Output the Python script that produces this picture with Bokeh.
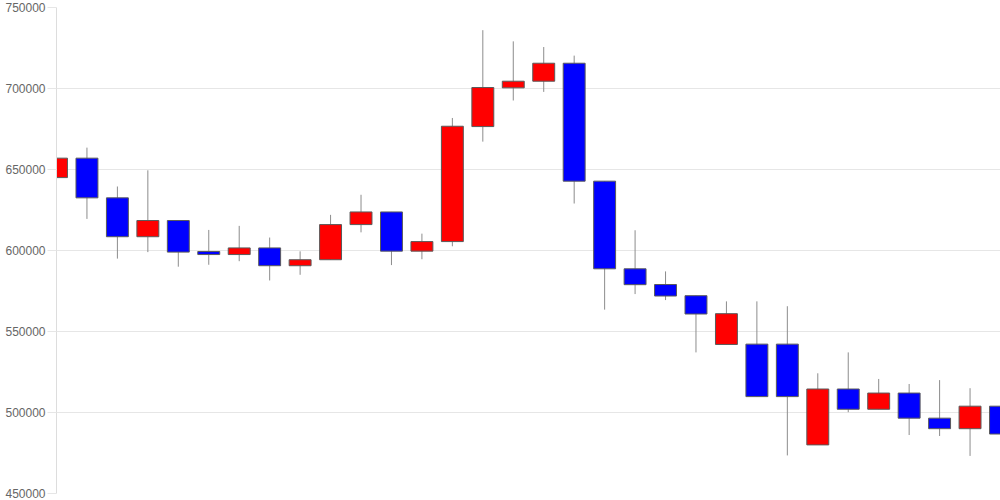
from bokeh.plotting import figure
from bokeh.models import Range1d, FixedTicker, BasicTickFormatter, ColumnDataSource
from bokeh.embed import file_html
from bokeh.resources import INLINE

# Candle data (index, open, high, low, close)
idx = list(range(32))
opens = [645000, 657000, 632500, 608500, 618500, 599400, 597500, 601600, 590600, 594300,
         616000, 623800, 599600, 605500, 676500, 700400, 704500, 715600, 642800, 588700,
         579000, 572100, 542000, 542200, 542200, 480000, 514500, 502000, 512000, 496500,
         490000, 503900]
closes = [657000, 632500, 608500, 618500, 599000, 597500, 601600, 590600, 594300, 616000,
          623800, 599600, 605500, 676700, 700600, 704500, 715600, 642800, 588700, 578900,
          571900, 560800, 561000, 509800, 509800, 514500, 502000, 512000, 496500, 490000,
          503900, 486700]
highs = [670000, 663500, 639500, 649500, 618500, 612700, 615200, 608000, 599500, 622000,
         634400, 623800, 610400, 681800, 736000, 729100, 725600, 720300, 642800, 612500,
         587100, 572100, 568600, 568600, 565600, 524200, 537100, 520700, 517600, 520000,
         515000, 508200]
lows = [626000, 619500, 595000, 599000, 590000, 591200, 593400, 581500, 585000, 594300,
        611200, 591000, 594600, 602600, 667200, 692600, 697900, 629000, 563500, 573100,
        569400, 537100, 541700, 509800, 473500, 480000, 500200, 502000, 486100, 485500,
        473200, 478100]
y_ticks = [450000, 500000, 550000, 600000, 650000, 700000, 750000]

UP = "#ff0000"
DOWN = "#0000ff"

src = ColumnDataSource(dict(
    x=idx,
    high=highs,
    low=lows,
    top=[max(o, c) for o, c in zip(opens, closes)],
    bottom=[min(o, c) for o, c in zip(opens, closes)],
    color=[UP if c >= o else DOWN for o, c in zip(opens, closes)],
))

p = figure(width=1000, height=500, output_backend="svg", toolbar_location=None,
           x_range=Range1d(0, 31), y_range=Range1d(450000, 750000),
           x_axis_location=None, min_border_left=56, min_border_right=0,
           min_border_top=7, min_border_bottom=7)
p.outline_line_color = None
p.background_fill_color = "white"
p.border_fill_color = "white"

p.xgrid.visible = False
p.ygrid.grid_line_color = "#e6e6e6"
p.ygrid.ticker = FixedTicker(ticks=y_ticks)

ax = p.yaxis[0]
ax.ticker = FixedTicker(ticks=y_ticks)
ax.formatter = BasicTickFormatter(use_scientific=False)
ax.axis_line_color = "#dddddd"
ax.major_tick_line_color = "#e6e6e6"
ax.major_tick_out = 9
ax.major_tick_in = 0
ax.minor_tick_line_color = None
ax.major_label_standoff = 2
ax.major_label_text_font = "Liberation Sans"
ax.major_label_text_font_size = "12px"
ax.major_label_text_color = "#666666"

p.segment(x0="x", x1="x", y0="low", y1="high", source=src,
          line_color="#8c8c8c", line_width=1)
p.vbar(x="x", width=0.72, top="top", bottom="bottom", source=src,
       fill_color="color", line_color="#5a5a5a", line_width=1)

open("out.html", "w").write(file_html(p, INLINE))
